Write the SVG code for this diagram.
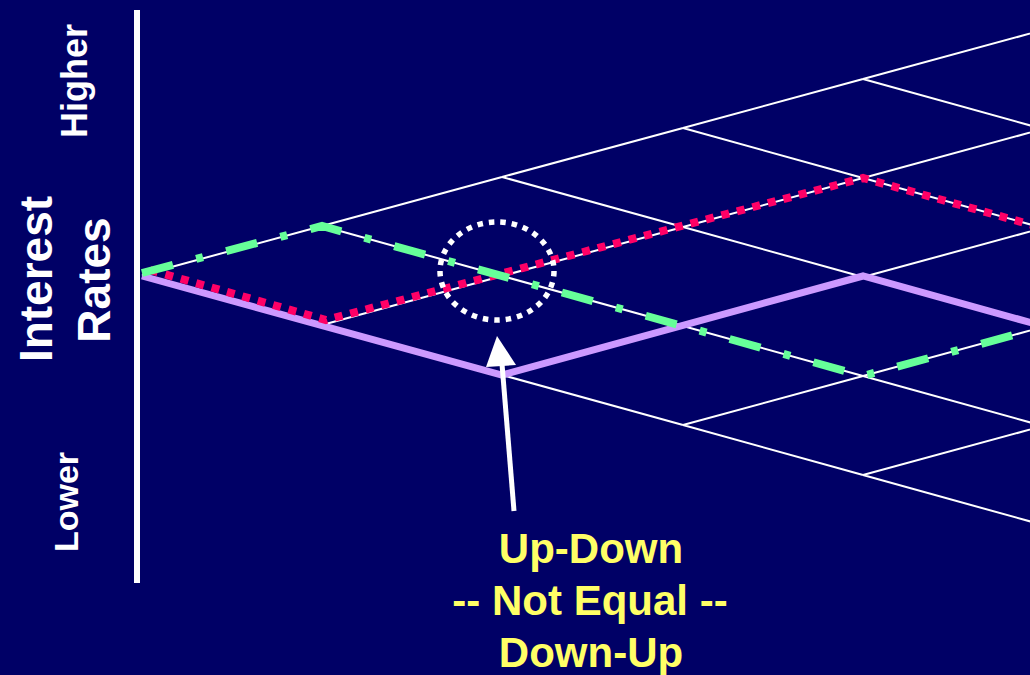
<svg xmlns="http://www.w3.org/2000/svg" width="1030" height="675" viewBox="0 0 1030 675">
<style>
.lat{stroke:#FFFFFF;stroke-width:2;fill:none}
.lbl{font-family:"Liberation Sans",Arial,sans-serif;font-weight:bold;fill:#FFFFFF;text-anchor:middle}
.cap{font-family:"Liberation Sans",Arial,sans-serif;font-weight:bold;fill:#FFFF66;text-anchor:middle;font-size:42px}
</style>
<rect x="0" y="0" width="1030" height="675" fill="#000066"/>
<g id="axis">
<line x1="137" y1="10" x2="137" y2="583" stroke="#FFFFFF" stroke-width="6"/>
</g>
<g id="label-higher"><text class="lbl" font-size="36" transform="translate(87,81) rotate(-90)">Higher</text></g>
<g id="label-interest-rates">
<text class="lbl" font-size="46" transform="translate(52,279) rotate(-90)">Interest</text>
<text class="lbl" font-size="46" transform="translate(110,280) rotate(-90)">Rates</text>
</g>
<g id="label-lower"><text class="lbl" font-size="34" transform="translate(78,502) rotate(-90)">Lower</text></g>
<g id="lattice" class="lat">
<path d="M142,275 L322,226 M142,275 L322,325"/>
<path d="M322,226 L502,177 M322,226 L502,276 M322,325 L502,276 M322,325 L502,375"/>
<path d="M502,177 L683,128 M502,177 L683,227 M502,276 L683,227 M502,276 L683,326 M502,375 L683,326 M502,375 L683,425"/>
<path d="M683,128 L863,79 M683,128 L863,178 M683,227 L863,178 M683,227 L863,277 M683,326 L863,277 M683,326 L863,376 M683,425 L863,376 M683,425 L863,475"/>
<path d="M863,79 L1043,30 M863,79 L1043,129 M863,178 L1043,129 M863,178 L1043,228 M863,277 L1043,228 M863,277 L1043,327 M863,376 L1043,327 M863,376 L1043,426 M863,475 L1043,426 M863,475 L1043,525"/>
</g>
<g id="connectors">
<path id="path-down-up" d="M142,276 L502,375 L863,276 L1043,326" fill="none" stroke="#CC99FF" stroke-width="7" stroke-linejoin="miter"/>
<path id="path-down-up-up-down" d="M150,270 L326,320 L863,178 L1043,228" fill="none" stroke="#FF0066" stroke-width="8" stroke-dasharray="8 8"/>
<path id="path-up-down" d="M142,273 L322,226 L863,376 L1043,327" fill="none" stroke="#66FF99" stroke-width="8" stroke-dasharray="32 24 7 24"/>
</g>
<g id="highlight">
<ellipse cx="497" cy="271" rx="57" ry="49" fill="none" stroke="#FFFFFF" stroke-width="5.5" stroke-dasharray="5.5 6"/>
</g>
<g id="arrow">
<line x1="514" y1="511" x2="502" y2="364" stroke="#FFFFFF" stroke-width="5"/>
<polygon points="497,336 486,367 516,365" fill="#FFFFFF"/>
</g>
<g id="caption">
<text class="cap" x="591" y="563">Up-Down</text>
<text class="cap" x="590" y="615">-- Not Equal --</text>
<text class="cap" x="591" y="667">Down-Up</text>
</g>
</svg>
